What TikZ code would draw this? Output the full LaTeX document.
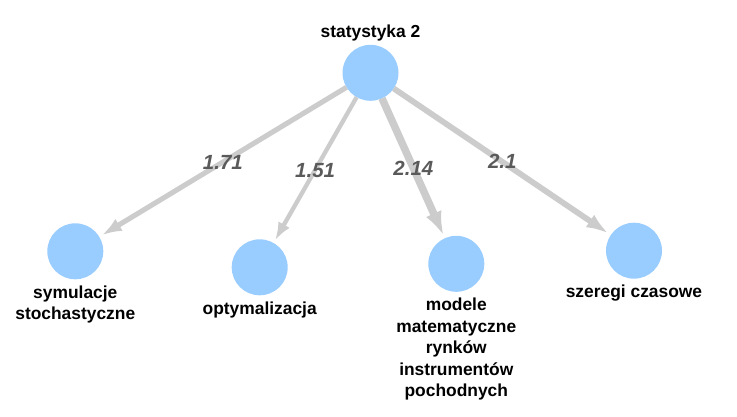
\documentclass[tikz,border=0pt]{standalone}
\usepackage{fontspec}
\setmainfont{Liberation Sans}
\usetikzlibrary{arrows.meta,positioning}
\definecolor{nodeblue}{HTML}{99CCFF}
\definecolor{edgegrey}{HTML}{CCCCCC}
\definecolor{weightgrey}{HTML}{5A5A5A}

\begin{document}
\begin{tikzpicture}[x=1pt,y=-1pt,
    topic/.style={circle,fill=nodeblue,minimum size=56pt,inner sep=0pt,outer sep=0pt},
    topiclabel/.style={inner sep=0pt,align=center,font=\fontsize{17.4}{21.5}\selectfont\bfseries},
    link/.style={draw=edgegrey,shorten >=3pt},
    weightlabel/.style={inner sep=0pt,text=weightgrey,font=\fontsize{20.5}{24}\selectfont\bfseries\itshape}]
    \useasboundingbox (0,0) rectangle (737,417);
    \node [topic] (stat) at (370.5,72.8) {};
    \node [topic] (sym) at (75.3,251.3) {};
    \node [topic] (opt) at (259.7,267.3) {};
    \node [topic] (mod) at (456.3,263.8) {};
    \node [topic] (sze) at (634,250.7) {};
    \node [topiclabel,above=3pt of stat] (statname) {statystyka 2};
    \node [topiclabel,below=6pt of sym] (symname) {symulacje\\stochastyczne};
    \node [topiclabel,below=6pt of opt] (optname) {optymalizacja};
    \node [topiclabel,below=6pt of mod] (modname) {modele\\matematyczne\\rynków\\instrumentów\\pochodnych};
    \node [topiclabel,below=6pt of sze] (szename) {szeregi czasowe};
    \draw [link,line width=5.1pt,-{Latex[length=20pt,width=14pt]}] (stat) -- node [weightlabel] {1.71} (sym);
    \draw [link,line width=4.3pt,-{Latex[length=18pt,width=13pt]}] (stat) -- node [weightlabel] {1.51} (opt);
    \draw [link,line width=7.5pt,-{Latex[length=24pt,width=17pt]}] (stat) -- node [weightlabel] {2.14} (mod);
    \draw [link,line width=5.8pt,-{Latex[length=22pt,width=15pt]}] (stat) -- node [weightlabel] {2.1} (sze);
\end{tikzpicture}
\end{document}
